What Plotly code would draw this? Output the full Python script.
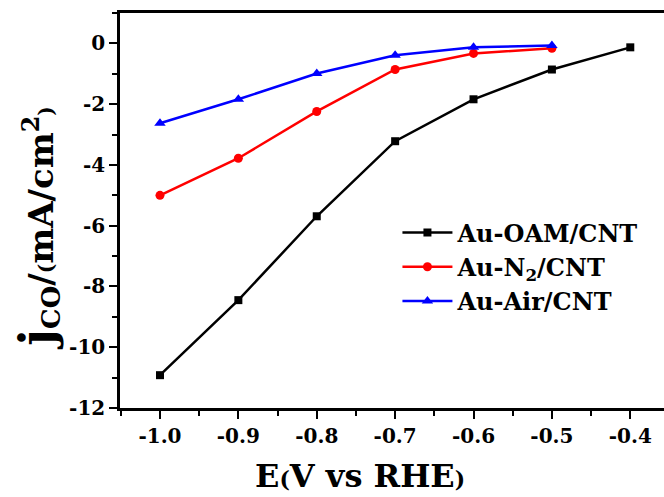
import plotly.graph_objects as go

# Potential (V vs RHE) and CO partial current density (mA/cm2)
potential_oam = [-1.0, -0.9, -0.8, -0.7, -0.6, -0.5, -0.4]
j_oam = [-10.92, -8.45, -5.69, -3.22, -1.84, -0.86, -0.13]

potential_n2 = [-1.0, -0.9, -0.8, -0.7, -0.6, -0.5]
j_n2 = [-5.0, -3.78, -2.24, -0.86, -0.33, -0.16]

potential_air = [-1.0, -0.9, -0.8, -0.7, -0.6, -0.5]
j_air = [-2.63, -1.84, -0.99, -0.39, -0.13, -0.07]

x_ticks = [-1.0, -0.9, -0.8, -0.7, -0.6, -0.5, -0.4]
x_tick_labels = ["-1.0", "-0.9", "-0.8", "-0.7", "-0.6", "-0.5", "-0.4"]
y_ticks = [0, -2, -4, -6, -8, -10, -12]
y_tick_labels = ["0", "-2", "-4", "-6", "-8", "-10", "-12"]

font_family = "DejaVu Serif"

fig = go.Figure()
fig.add_trace(go.Scatter(
    x=potential_oam, y=j_oam, mode="lines+markers", name="Au-OAM/CNT",
    line=dict(color="black", width=2.5),
    marker=dict(symbol="square", size=8, color="black"),
))
fig.add_trace(go.Scatter(
    x=potential_n2, y=j_n2, mode="lines+markers", name="Au-N<sub>2</sub>/CNT",
    line=dict(color="red", width=2.5),
    marker=dict(symbol="circle", size=9, color="red"),
))
fig.add_trace(go.Scatter(
    x=potential_air, y=j_air, mode="lines+markers", name="Au-Air/CNT",
    line=dict(color="blue", width=2.5),
    marker=dict(symbol="triangle-up", size=10, color="blue"),
))

fig.update_layout(
    width=664, height=497,
    paper_bgcolor="white", plot_bgcolor="white",
    margin=dict(l=120, r=0, t=13, b=89),
    font=dict(family=font_family, color="black"),
    showlegend=True,
    legend=dict(
        x=0.51, y=0.50, xanchor="left", yanchor="top",
        bgcolor="rgba(0,0,0,0)",
        font=dict(family=font_family, size=24, color="black", weight="bold"),
        itemwidth=50, tracegroupgap=0,
    ),
)

fig.update_xaxes(
    range=[-1.051, -0.357],
    tickvals=x_ticks, ticktext=x_tick_labels,
    tickfont=dict(family=font_family, size=20, color="black", weight="bold"),
    ticks="outside", ticklen=8, tickwidth=2, tickcolor="black",
    minor=dict(dtick=0.05, tick0=0, ticks="outside", ticklen=5, tickwidth=2, tickcolor="black"),
    showline=True, linewidth=2.5, linecolor="black", mirror=True,
    showgrid=False, zeroline=False,
)

fig.update_yaxes(
    range=[-12, 1.0],
    tickvals=y_ticks, ticktext=y_tick_labels,
    tickfont=dict(family=font_family, size=20, color="black", weight="bold"),
    ticks="outside", ticklen=8, tickwidth=2, tickcolor="black",
    minor=dict(dtick=1, tick0=0, ticks="outside", ticklen=5, tickwidth=2, tickcolor="black"),
    showline=True, linewidth=2.5, linecolor="black", mirror=False,
    showgrid=False, zeroline=False,
)

# Axis titles
fig.add_annotation(
    text="<b>E<span style='font-size:22px'>(</span>V vs RHE<span style='font-size:22px'>)</span></b>",
    xref="paper", yref="paper", x=0.441, y=-0.172,
    xanchor="center", yanchor="middle", showarrow=False,
    font=dict(family=font_family, size=32, color="black"),
)
fig.add_annotation(
    text="<b><span style='font-size:46px'>j</span><sub><span style='font-size:26px'>CO</span></sub>/"
         "<span style='font-size:20px'>(</span>mA/cm<sup>2</sup><span style='font-size:20px'>)</span></b>",
    xref="paper", yref="paper", x=-0.15, y=0.455,
    xanchor="center", yanchor="middle", textangle=-90, showarrow=False,
    font=dict(family=font_family, size=34, color="black"),
)

fig.write_html("out.html")
